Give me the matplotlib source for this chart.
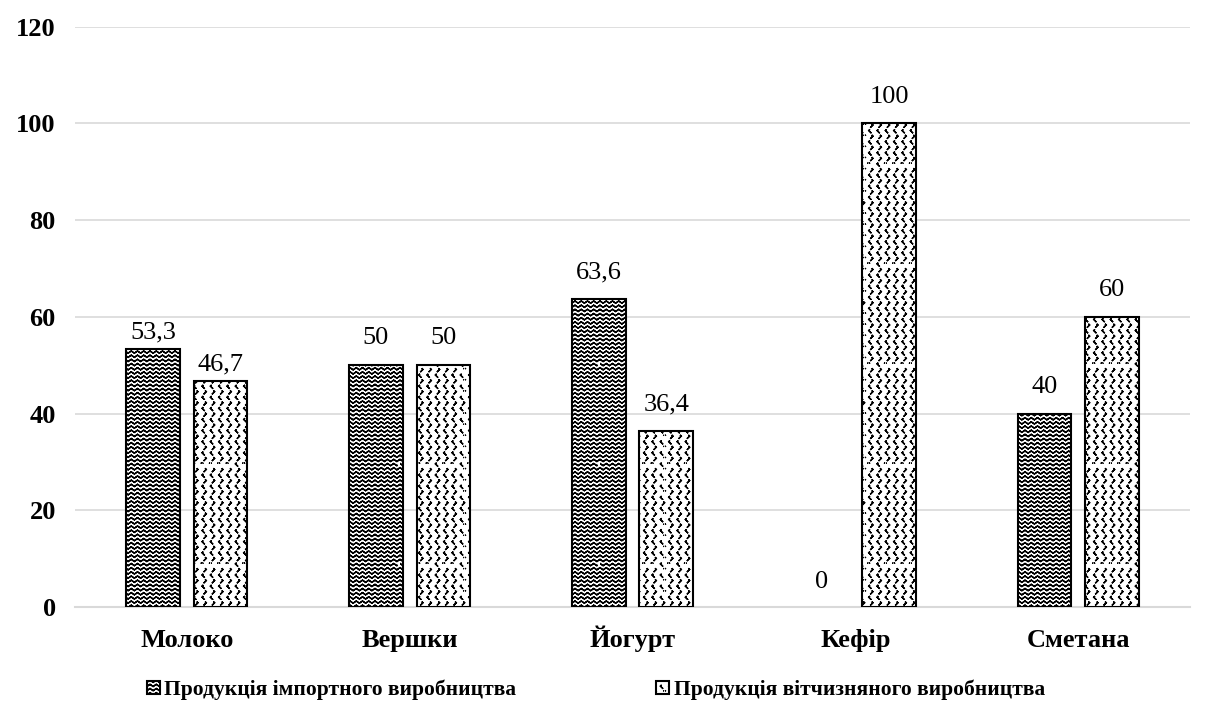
import numpy as np
import matplotlib
matplotlib.use("Agg")
import matplotlib.pyplot as plt
from matplotlib import hatch as mhatch
from matplotlib.path import Path

# data
categories = ["Молоко", "Вершки", "Йогурт", "Кефір", "Сметана"]
imported = [53.3, 50, 63.6, 0, 40]
domestic = [46.7, 50, 36.4, 100, 60]
labels_imp = ["53,3", "50", "63,6", "0", "40"]
labels_dom = ["46,7", "50", "36,4", "100", "60"]
series_names = ["Продукція імпортного виробництва", "Продукція вітчизняного виробництва"]
yticks = [0, 20, 40, 60, 80, 100, 120]


# custom hatches: zigzag (replaces '-') and small chevrons (replaces '.')
class ZigzagHatch(mhatch.HatchPatternBase):
    def __init__(self, hatch, density):
        self.num_lines = int(hatch.count('-') * density)
        self.periods = int(self.num_lines * 2 / 3) if self.num_lines else 0
        self.npts = 2 * self.periods + 1
        # go forward and back so the filled area is zero
        self.num_vertices = self.num_lines * (2 * self.npts - 1)

    def set_vertices_and_codes(self, vertices, codes):
        steps, stepsize = np.linspace(0.0, 1.0, self.num_lines, False, retstep=True)
        steps += stepsize / 2.
        xs = np.linspace(0.0, 1.0, self.npts)
        amp = np.where(np.arange(self.npts) % 2 == 0, 0.011, -0.011)
        xx = np.concatenate([xs, xs[-2::-1]])
        aa = np.concatenate([amp, amp[-2::-1]])
        n = len(xx)
        for i, y in enumerate(steps):
            sl = slice(i * n, (i + 1) * n)
            vertices[sl, 0] = xx
            vertices[sl, 1] = y + aa
            codes[sl] = Path.LINETO
            codes[i * n] = Path.MOVETO


class ChevronHatch(mhatch.HatchPatternBase):
    def __init__(self, hatch, density):
        self.rows = int(hatch.count('.') * density)
        self.cols = int(self.rows * 0.7) if self.rows else 0
        self.num_vertices = self.rows * self.cols * 5

    def set_vertices_and_codes(self, vertices, codes):
        k = 0
        w, h = 0.007, 0.007
        for r in range(self.rows):
            y = (r + 0.5) / self.rows
            shift = 0.0 if r % 2 == 0 else 0.5
            sign = 1 if r % 2 == 0 else -1
            for c in range(self.cols):
                x = (c + 0.25 + shift) / self.cols
                pts = [(x + sign * w, y + h), (x, y), (x + sign * w, y - h),
                       (x, y), (x + sign * w, y + h)]
                for j, p in enumerate(pts):
                    vertices[k] = p
                    codes[k] = Path.MOVETO if j == 0 else Path.LINETO
                    k += 1


mhatch._hatch_types = [ZigzagHatch if t is mhatch.HorizontalHatch else
                       ChevronHatch if t is mhatch.SmallFilledCircles else t
                       for t in mhatch._hatch_types]

plt.rcParams['font.family'] = ['Liberation Serif', 'DejaVu Serif']
plt.rcParams['hatch.linewidth'] = 1.0
plt.rcParams['hatch.color'] = 'black'

fig = plt.figure(figsize=(12.14, 7.2), dpi=100)
ax = fig.add_axes([0.062, 0.157, 0.918, 0.806])

x = np.arange(len(categories))
w = 0.24
off = 0.151
b1 = ax.bar(x - off, imported, w, color='white', edgecolor='black',
            linewidth=[1.5 if v > 0 else 0 for v in imported],
            hatch='----', label=series_names[0], zorder=3)
b2 = ax.bar(x + off, domestic, w, color='white', edgecolor='black', linewidth=1.5,
            hatch='...', label=series_names[1], zorder=3)

# label offsets in points (first group's labels sit closer to the bars)
for i, (xi, v, s) in enumerate(zip(x - off, imported, labels_imp)):
    dy = 8 if i == 0 else (14 if v == 0 else 15)
    ax.annotate(s, (xi, v), xytext=(0, dy), textcoords='offset points',
                ha='center', va='baseline', fontsize=19)
for i, (xi, v, s) in enumerate(zip(x + off, domestic, labels_dom)):
    dy = 8 if i == 0 else 15
    ax.annotate(s, (xi, v), xytext=(0, dy), textcoords='offset points',
                ha='center', va='baseline', fontsize=19)

ax.set_xlim(-0.5, len(categories) - 0.5)
ax.set_ylim(0, 120)
ax.set_yticks(yticks)
ax.set_xticks(x)
ax.set_xticklabels(categories, fontsize=19, fontweight='bold')
for lbl in ax.get_xticklabels():
    lbl.set_verticalalignment('baseline')
ax.tick_params(axis='y', labelsize=19, length=0, pad=14)
ax.tick_params(axis='x', length=0, pad=29)
for lbl in ax.get_yticklabels():
    lbl.set_fontweight('bold')

ax.grid(axis='y', color='#d9d9d9', linewidth=1.2, zorder=0)
ax.set_axisbelow(True)
for side in ['top', 'right', 'left']:
    ax.spines[side].set_visible(False)
ax.spines['bottom'].set_color('#d9d9d9')
ax.spines['bottom'].set_linewidth(1.5)

leg = fig.legend(handles=[b1, b2], loc='center', bbox_to_anchor=(0.491, 0.042), ncol=2,
                 frameon=False, prop={'size': 15.5, 'weight': 'bold'},
                 handlelength=0.6, handleheight=0.6, handletextpad=0.2, columnspacing=6.5)

fig.savefig('out.png', dpi=100)
